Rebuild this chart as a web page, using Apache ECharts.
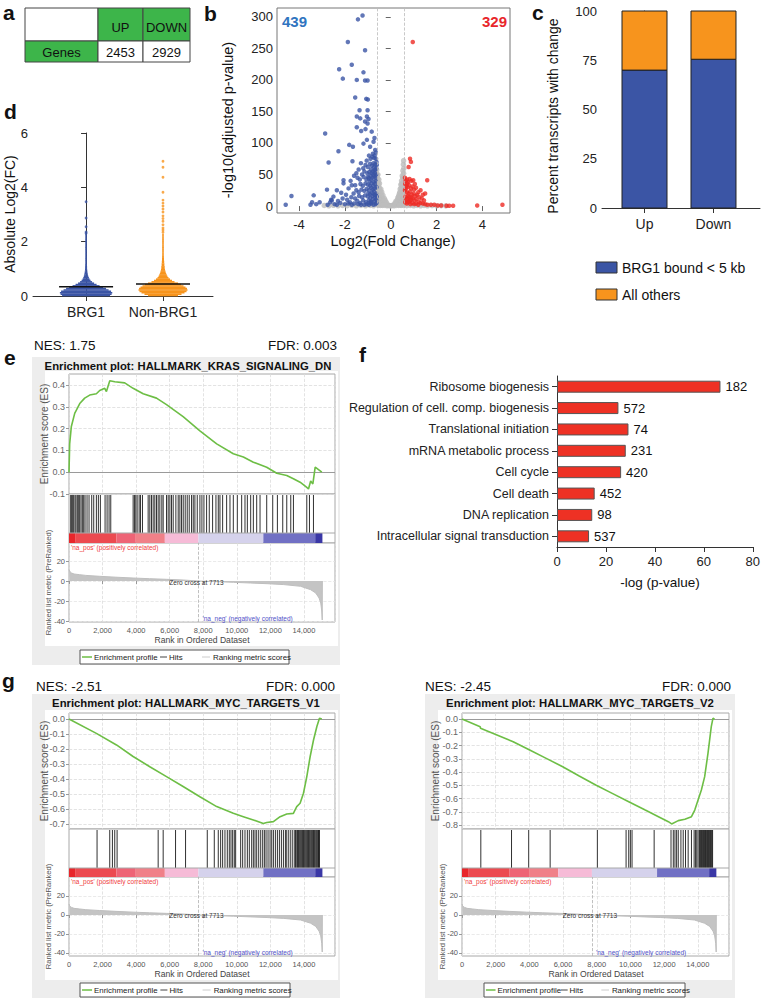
<!DOCTYPE html>
<html><head><meta charset="utf-8">
<script src="https://cdn.jsdelivr.net/npm/echarts@6/dist/echarts.min.js"></script>
<style>html,body{margin:0;padding:0;background:#fff}#c{width:763px;height:998px}</style>
</head><body><div id="c"></div>
<script>
const FF = '"Liberation Sans", Arial, Helvetica, sans-serif';

// ---------- a: table ----------
const tableHeader = ['UP', 'DOWN'];
const tableRowLabel = 'Genes';
const tableValues = [2453, 2929];

// ---------- b: volcano ----------
const volcanoGray = [
[-0.61,57],[-0.63,52],[-0.59,49],[-0.62,46],[-0.57,44],[-0.6,40],[-0.55,38],[-0.62,35],[-0.53,33],[-0.58,30],[-0.5,29],[-0.6,26],[-0.47,25],[-0.54,22],[-0.44,21],[-0.6,19],[-0.5,17],[-0.4,16],[-0.56,14],[-0.46,12],[-0.36,12],[-0.6,10],[-0.52,8],[-0.42,8],[-0.32,8],[-0.27,6],[-0.58,5],[-0.48,4],[-0.38,4],[-0.22,4],[-0.3,3],[-0.17,2],[-0.12,1.5],[-0.07,1],[-0.02,0.5],[-0.55,1],[-0.45,1],[-0.35,1],[-0.25,1],[-0.15,0.5],
[-0.56,50],[-0.52,42],[-0.49,36],[-0.57,24],[-0.43,27],[-0.39,22],[-0.34,17],[-0.28,12],[-0.24,9],[-0.19,6],[-0.52,3],[-0.43,2],[-0.33,2],
[0.56,72],[0.55,66],[0.57,60],[0.53,56],[0.56,52],[0.5,48],[0.55,44],[0.47,40],[0.53,37],[0.44,34],[0.5,31],[0.57,28],[0.41,27],[0.47,24],[0.54,22],[0.38,20],[0.44,18],[0.52,16],[0.34,15],[0.41,13],[0.49,11],[0.57,10],[0.3,10],[0.37,9],[0.45,7],[0.54,6],[0.26,6],[0.33,5],[0.41,4],[0.5,3],[0.21,4],[0.28,3],[0.16,2],[0.11,1.5],[0.06,1],[0.02,0.5],[0.55,1],[0.45,1],[0.35,1],[0.25,1],[0.15,0.5],
[0.52,45],[0.48,35],[0.45,29],[0.4,22],[0.36,17],[0.31,13],[0.23,8],[0.19,5],[0.47,2],[0.38,2],
[-2.9,1],[-2.7,0.5],[-2.5,1.2],[-2.3,0.5],[-2.1,1],[-1.9,0.6],[-1.7,1.2],[-1.5,0.5],[-1.3,1],[-1.1,0.5],[-0.9,1],[-0.75,0.5],[0.7,0.6],[0.85,1],[1.0,0.5],[1.15,1],[1.3,0.5],[1.45,1],[1.6,0.4],[1.8,0.8],[2.0,0.4],[2.2,0.7],[2.4,0.3]
];
const volcanoBlue = [
[-1.23,302],[-1.43,296],[-1.87,260],[-1.12,247],[-1.70,224],[-2.25,217],[-1.19,212],[-2.09,202],[-1.48,200],[-1.12,199],[-1.01,199],[-1.55,172],[-1.07,170],[-1.00,169],[-1.36,152],[-1.01,152],[-1.48,142],[-1.33,139],[-1.04,142],[-0.97,138],[-1.12,134],[-1.01,131],[-1.48,125],[-2.86,115],[-1.29,119],[-1.10,122],[-0.83,118],[-0.71,108],[-1.81,97],[-1.65,94],[-2.28,87],[-1.19,99],[-1.04,105],[-0.90,94],[-1.67,71],[-2.71,69],[-0.75,102],[-0.68,89],[-0.78,83],
[-0.65,85],[-0.7,80],[-0.72,76],[-0.8,78],[-0.88,75],[-0.95,80],[-1.05,72],[-0.62,70],[-0.68,66],[-0.75,68],[-0.82,64],[-0.9,67],[-1.0,62],[-1.1,65],[-1.2,60],[-1.3,68],[-0.63,60],[-0.7,57],[-0.78,55],[-0.86,58],[-0.94,54],[-1.02,52],[-1.15,55],[-1.25,50],[-1.4,58],[-1.5,52],[-0.64,50],[-0.72,47],[-0.8,45],[-0.88,48],[-0.96,44],[-1.06,42],[-1.18,46],[-1.35,42],[-1.45,45],[-1.6,48],[-1.75,40],[-2.06,41],[-2.06,36],[-0.66,40],[-0.74,38],[-0.84,36],[-0.92,39],[-1.0,34],[-1.1,36],[-1.22,32],[-1.32,35],[-1.55,33],[-1.7,33],[-1.84,28],[-2.35,25],[-2.16,21],[-2.78,26],[-3.36,17],[-4.33,16],[-4.58,2],
[-0.62,30],[-0.7,28],[-0.78,26],[-0.86,29],[-0.95,25],[-1.05,27],[-1.15,24],[-1.28,26],[-1.4,22],[-1.5,25],[-1.62,20],[-1.95,18],[-2.5,15],[-0.64,20],[-0.72,18],[-0.8,16],[-0.9,19],[-1.0,15],[-1.12,17],[-1.25,14],[-1.38,16],[-1.55,12],[-1.72,14],[-1.9,10],[-2.1,12],[-2.3,8],[-2.6,10],[-0.63,10],[-0.7,8],[-0.78,11],[-0.87,7],[-0.96,9],[-1.08,6],[-1.2,9],[-1.33,5],[-1.46,8],[-1.6,4],[-1.78,6],[-2.0,3],[-2.2,5],[-2.45,3],[-2.64,6],[-2.57,9],[-2.75,2],[-3.43,6],[-3.25,3],[-3.1,6],[-3.5,2],[-0.66,3],[-0.75,2],[-0.85,4],[-0.95,2],[-1.05,3],[-1.15,2],[-1.3,2],[-1.42,3],[-1.7,2],[-1.85,4],[-2.35,2],
[-0.61,65],[-0.64,75],[-0.67,58],[-0.69,52],[-0.73,62],[-0.76,50],[-0.66,45],[-0.69,35],[-0.76,32],[-0.83,52],[-0.85,42],[-0.91,32],[-0.99,46],[-0.61,15],[-0.67,13],[-0.74,23],[-0.82,21],[-0.89,13],[-0.98,20],[-0.62,5],[-0.68,17],[-0.83,6],[-0.92,5]
];
const volcanoRed = [
[0.96,260],[0.84,75],[0.88,70],[0.78,62],[1.59,41],[0.62,45],[0.65,40],[0.7,42],[0.75,38],[0.82,43],[0.9,40],[0.98,41],[1.05,35],[0.63,35],[0.68,32],[0.74,30],[0.8,33],[0.88,28],[0.95,31],[1.02,26],[1.1,29],[1.2,22],[1.3,25],[1.4,18],[1.5,20],[0.62,25],[0.7,22],[0.77,20],[0.85,23],[0.92,18],[1.0,20],[1.08,16],[1.15,18],[1.25,14],[1.35,12],[1.45,9],[0.64,15],[0.72,12],[0.8,14],[0.88,10],[0.96,12],[1.04,9],[1.12,11],[1.22,7],[1.3,5],[1.4,4],[0.63,6],[0.7,4],[0.78,7],[0.86,3],[0.94,5],[1.02,3],[1.1,4],[1.2,2],[1.5,3],[1.6,2],[1.75,2],[1.9,2],[2.05,1],[2.2,1],[2.43,0.5],[2.55,0.5],[2.72,0.5],[3.77,1],[4.87,2],
[0.66,28],[0.72,36],[0.76,16],[0.83,8],[0.91,14],[0.66,10],[0.74,6]
];
const volcanoCounts = [439, 329];
const volcanoThreshold = 0.585;
const volcanoXTicks = [-4, -2, 0, 2, 4];
const volcanoYTicks = [0, 50, 100, 150, 200, 250, 300];

// ---------- c: stacked bars ----------
const cCategories = ['Up', 'Down'];
const cBound = [70, 75.5];
const cOthers = [30, 24.5];
const cNames = ['BRG1 bound < 5 kb', 'All others'];

// ---------- d: distributions ----------
const dCategories = ['BRG1', 'Non-BRG1'];
const dBinEdges = [0,0.05,0.1,0.15,0.2,0.25,0.3,0.35,0.4,0.45,0.5,0.55,0.6,0.65,0.7,0.75,0.8,0.85,0.9,0.95,1.0,1.1,1.2,1.3,1.4,1.5,1.6,1.7,1.8,1.9,2.0,2.1,2.2,2.3];
const dDensityBRG1 = [240,255,262,250,225,200,170,135,105,80,60,45,35,28,23,19,16,14,12,11,10,9,8,8,7,7,6,6,5,5,5,4,3];
const dDensityNon  = [150,185,215,235,245,240,225,205,180,150,115,90,70,55,45,38,32,27,23,20,17,14,12,10,9,8,7,7,6,6,5,5,4];
const dSparseBRG1 = [3.47, 2.87, 2.55, 2.36, 2.31];
const dSparseNon = [4.96, 4.74, 4.37, 3.82, 3.53, 3.42, 3.31, 3.2, 3.09, 2.95, 2.85, 2.75, 2.62, 2.5, 2.43, 2.35];
const dMeans = [0.34, 0.44];

// ---------- f: GO terms ----------
const fTerms = ['Ribosome biogenesis','Regulation of cell. comp. biogenesis','Translational initiation','mRNA metabolic process','Cell cycle','Cell death','DNA replication','Intracellular signal transduction'];
const fValues = [66.8, 25.1, 29.2, 28.1, 26.2, 15.4, 14.4, 13.1];
const fGenes = [182, 572, 74, 231, 420, 452, 98, 537];

// ---------- GSEA shared ----------
const rankMax = 15850;
const rankYTicks = [-40, -20, 0, 20];
const zeroCross = 7713;
const rankedMetric = [[0,11.5],[30,10],[80,9],[150,8],[300,7],[640,6.3],[1000,5.6],[1830,4.7],[2800,3.8],[3820,3],[4800,2.3],[5810,1.7],[6800,1.0],[7713,0],[8800,-0.7],[9800,-1.3],[10800,-2],[11800,-2.7],[12800,-3.6],[13800,-5.3],[14400,-8.7],[14700,-12],[14900,-17],[15000,-22],[15060,-30],[15090,-39],[15095,0]];
const colorBarBreaks = [0, 400, 2830, 3980, 5710, 7713, 11580, 14670, 15100];

// e
const eTitle = 'Enrichment plot: HALLMARK_KRAS_SIGNALING_DN';
const eNES = 'NES: 1.75', eFDR = 'FDR: 0.003';
const eESTicks = [-0.1, 0, 0.1, 0.2, 0.3, 0.4];
const eES = [[0,0],[40,0.13],[140,0.21],[340,0.27],[640,0.315],[935,0.34],[1234,0.354],[1630,0.36],[1830,0.375],[2130,0.385],[2230,0.37],[2430,0.42],[2730,0.415],[3320,0.41],[3820,0.385],[4420,0.36],[5215,0.34],[5810,0.31],[6800,0.255],[7800,0.19],[8800,0.13],[9790,0.085],[10390,0.07],[10985,0.046],[11780,0.023],[12380,-0.005],[12975,-0.015],[13370,-0.03],[13770,-0.046],[14170,-0.07],[14270,-0.077],[14400,-0.04],[14530,-0.054],[14670,0.023],[15065,0]];
const eHits = [100,159,219,279,358,418,498,577,637,716,796,876,955,1075,1194,1353,1473,1632,1751,1870,2149,2269,2388,2488,3821,3900,3980,4060,4179,4259,4378,4716,4816,4915,5015,5114,5214,5313,5413,5532,5612,5811,5910,6010,6109,6209,6368,6507,6607,6706,6806,6925,7045,7164,7303,7403,7502,7642,7801,7920,8040,8199,8358,8557,8756,8895,8995,9154,9393,9592,9791,10030,10288,10487,10627,10826,10985,11184,11383,11781,12139,12418,12736,12975,13214,13373,14169,14328,14567];

// g left
const g1Title = 'Enrichment plot: HALLMARK_MYC_TARGETS_V1';
const g1NES = 'NES: -2.51', g1FDR = 'FDR: 0.000';
const g1ESTicks = [-0.7,-0.6,-0.5,-0.4,-0.3,-0.2,-0.1,0];
const g1ES = [[0,0],[1630,-0.096],[2830,-0.173],[3820,-0.25],[4815,-0.318],[5810,-0.384],[6800,-0.45],[7800,-0.518],[8800,-0.584],[9790,-0.629],[10390,-0.651],[10985,-0.673],[11580,-0.696],[11780,-0.69],[12180,-0.684],[12580,-0.651],[12975,-0.633],[13370,-0.629],[13570,-0.584],[13770,-0.562],[13970,-0.495],[14170,-0.384],[14370,-0.25],[14570,-0.14],[14770,-0.05],[14925,0.005],[15065,0]];
const g1Hits = [1672,2428,2587,2726,2866,5313,5612,6348,6945,8239,8657,8895,9035,9154,9293,9433,9552,9652,9751,9850,9930,10229,10348,10487,10627,10746,10885,10985,11084,11184,11303,11423,11542,11642,11741,11860,11980,12079,12179,12298,12418,12537,12656,12776,12895,12975,13094,13214,13333,13452,13500,13572,13620,13671,13720,13771,13820,13870,13920,13970,14020,14069,14120,14169,14220,14268,14320,14368,14420,14467,14520,14567,14620,14666,14720,14766,14820,14865,14890,14925];

// g right
const g2Title = 'Enrichment plot: HALLMARK_MYC_TARGETS_V2';
const g2NES = 'NES: -2.45', g2FDR = 'FDR: 0.000';
const g2ESTicks = [-0.8,-0.7,-0.6,-0.5,-0.4,-0.3,-0.2,-0.1,0];
const g2ES = [[0,0],[1078,-0.058],[1100,-0.07],[3038,-0.171],[4018,-0.234],[5000,-0.297],[5978,-0.36],[6958,-0.43],[7938,-0.498],[8918,-0.561],[9898,-0.624],[10878,-0.687],[11662,-0.737],[12250,-0.775],[12446,-0.792],[12838,-0.767],[13230,-0.757],[13622,-0.737],[13818,-0.687],[14014,-0.611],[14210,-0.536],[14406,-0.435],[14602,-0.259],[14798,-0.058],[14896,0.005],[14994,0]];
const g2Hits = [1117,2940,3959,5233,8036,9741,9898,9996,10094,11407,12407,12544,12642,12740,12838,12995,13132,13269,13426,13622,13779,13857,13936,14014,14092,14130,14171,14210,14249,14290,14328,14370,14406,14450,14484,14530,14563,14600,14641,14680,14720,14760,14798,14840,14876];

// ---------- styles ----------
const colorBarColors = ['#E8262B','#EC4A50','#EE6476','#F08088','#F6BBD7','#D5D2EC','#7170C4','#3A37A6'];
const BLUE = '#3B55A5', ORANGE = '#F7941D', RED = '#EE2B24', GREEN = '#3DB54A';

// ---------- builders ----------
const grids = [], xAxes = [], yAxes = [], series = [], G = [];
function addGrid(rect, xa, ya) {
  const gi = grids.length;
  grids.push(rect);
  xAxes.push(Object.assign({gridIndex: gi}, xa));
  yAxes.push(Object.assign({gridIndex: gi}, ya));
  return gi;
}
function T(x, y, text, o) {
  o = o || {};
  G.push({type: 'text', x: x, y: y, rotation: o.rot || 0, z: o.z || 50, silent: true,
    style: {text: String(text), fill: o.color || '#111', fontSize: o.size || 14, fontFamily: FF,
      fontWeight: o.weight || 'normal', align: o.align || 'left', verticalAlign: 'middle'}});
}
function R(x, y, w, h, fill, stroke, z) {
  G.push({type: 'rect', z: z == null ? 1 : z, silent: true, shape: {x: x, y: y, width: w, height: h},
    style: {fill: fill || 'none', stroke: stroke || null, lineWidth: stroke ? 1 : 0}});
}
function Ln(x1, y1, x2, y2, stroke, w, z) {
  G.push({type: 'line', z: z == null ? 40 : z, silent: true, shape: {x1: x1, y1: y1, x2: x2, y2: y2},
    style: {stroke: stroke, lineWidth: w || 1}});
}
const axTxt = {color: '#222', fontFamily: FF};

// ---------- panel letters ----------
T(3, 12, 'a', {size: 21, weight: 'bold'});
T(204, 13, 'b', {size: 21, weight: 'bold'});
T(532, 12, 'c', {size: 21, weight: 'bold'});
T(4, 111, 'd', {size: 21, weight: 'bold'});
T(4, 357, 'e', {size: 21, weight: 'bold'});
T(359, 354, 'f', {size: 21, weight: 'bold'});
T(2, 680, 'g', {size: 21, weight: 'bold'});

// ---------- a: table ----------
R(25, 8, 73, 33, '#FFFFFF', '#444', 5);
R(98, 8, 45, 33, GREEN, '#444', 5);
R(143, 8, 47, 33, GREEN, '#444', 5);
R(25, 41, 73, 21, GREEN, '#444', 5);
R(98, 41, 45, 21, '#FFFFFF', '#444', 5);
R(143, 41, 47, 21, '#FFFFFF', '#444', 5);
T(120.5, 27, tableHeader[0], {size: 13, align: 'center'});
T(166.5, 27, tableHeader[1], {size: 13, align: 'center'});
T(61.5, 52, tableRowLabel, {size: 13, align: 'center'});
T(120.5, 52, tableValues[0], {size: 13, align: 'center'});
T(166.5, 52, tableValues[1], {size: 13, align: 'center'});

// ---------- b: volcano ----------
const gb = addGrid({left: 277, top: 8, width: 233, height: 205, show: true, borderColor: '#777', borderWidth: 1},
  {type: 'value', min: -4.96, max: 5.2, axisLine: {show: false},
   axisTick: {show: true, customValues: volcanoXTicks, length: 5, lineStyle: {color: '#666'}},
   axisLabel: Object.assign({customValues: volcanoXTicks, fontSize: 13, margin: 5}, axTxt), splitLine: {show: false}},
  {type: 'value', min: -11, max: 314, axisLine: {show: false},
   axisTick: {show: true, customValues: volcanoYTicks, length: 5, lineStyle: {color: '#666'}},
   axisLabel: Object.assign({customValues: volcanoYTicks, fontSize: 13, margin: 4}, axTxt), splitLine: {show: false}});
series.push({type: 'scatter', xAxisIndex: gb, yAxisIndex: gb, data: volcanoGray, symbolSize: 5.5, itemStyle: {color: '#BDBDBD'}, z: 2,
  markLine: {silent: true, symbol: 'none', label: {show: false}, lineStyle: {type: 'dashed', color: '#BBBBBB', width: 0.8},
    data: [{xAxis: -volcanoThreshold}, {xAxis: volcanoThreshold}]}});
series.push({type: 'scatter', xAxisIndex: gb, yAxisIndex: gb, data: volcanoBlue, symbolSize: 4.5, itemStyle: {color: BLUE}, z: 3});
series.push({type: 'scatter', xAxisIndex: gb, yAxisIndex: gb, data: volcanoRed, symbolSize: 4.5, itemStyle: {color: RED}, z: 3});
T(282, 21, volcanoCounts[0], {size: 15, weight: 'bold', color: '#2F74C0'});
T(507, 21, volcanoCounts[1], {size: 15, weight: 'bold', color: '#E8262B', align: 'right'});
T(393, 241, 'Log2(Fold Change)', {size: 14.5, align: 'center'});
T(228, 120, '-log10(adjusted p-value)', {size: 14.5, align: 'center', rot: Math.PI / 2});

// ---------- c: stacked bars ----------
const gc = addGrid({left: 602, top: 11, width: 158, height: 197},
  {type: 'value', min: -0.616, max: 1.674, axisLine: {show: true, lineStyle: {color: '#333'}},
   axisTick: {show: true, customValues: [0, 1], length: 5, lineStyle: {color: '#333'}},
   axisLabel: Object.assign({customValues: [0, 1], fontSize: 14, margin: 9, formatter: v => cCategories[Math.round(v)]}, axTxt), splitLine: {show: false}},
  {type: 'value', min: 0, max: 100, interval: 25, axisLine: {show: true, lineStyle: {color: '#333'}},
   axisTick: {show: true, length: 5, lineStyle: {color: '#333'}},
   axisLabel: Object.assign({fontSize: 13, margin: 5}, axTxt), splitLine: {show: false}});
series.push({type: 'custom', xAxisIndex: gc, yAxisIndex: gc, z: 3,
  data: cCategories.map((c, i) => [i, cBound[i], cOthers[i]]), encode: {x: 0, y: [1, 2]},
  renderItem: (params, api) => {
    const i = api.value(0), b = api.value(1), o = api.value(2);
    const p0 = api.coord([i, 0]), p1 = api.coord([i, b]), p2 = api.coord([i, b + o]);
    const w = 45;
    return {type: 'group', children: [
      {type: 'rect', shape: {x: p0[0] - w / 2, y: p1[1], width: w, height: p0[1] - p1[1]}, style: {fill: BLUE, stroke: '#222', lineWidth: 1}},
      {type: 'rect', shape: {x: p0[0] - w / 2, y: p2[1], width: w, height: p1[1] - p2[1]}, style: {fill: ORANGE, stroke: '#222', lineWidth: 1}}
    ]};
  }});
T(553, 116, 'Percent transcripts with change', {size: 14, align: 'center', rot: Math.PI / 2});
R(596, 262, 21, 11, BLUE, '#333', 5);
T(622, 268, cNames[0], {size: 14});
R(596, 289, 21, 11, ORANGE, '#333', 5);
T(622, 295, cNames[1], {size: 14});

// ---------- d: distributions ----------
const gd = addGrid({left: 33, top: 133, width: 180, height: 163},
  {type: 'value', min: -0.69, max: 1.65, axisLine: {show: true, lineStyle: {color: '#333'}},
   axisTick: {show: true, customValues: [0, 1], length: 5, lineStyle: {color: '#333'}},
   axisLabel: Object.assign({customValues: [0, 1], fontSize: 14, margin: 9, formatter: v => dCategories[Math.round(v)]}, axTxt), splitLine: {show: false}},
  {type: 'value', min: 0, max: 6, interval: 2, axisLine: {show: true, lineStyle: {color: '#333'}},
   axisTick: {show: true, length: 5, lineStyle: {color: '#333'}},
   axisLabel: Object.assign({fontSize: 13, margin: 5}, axTxt), splitLine: {show: false}});
const dColors = [BLUE, ORANGE];
const dData = [];
[dDensityBRG1, dDensityNon].forEach((arr, c) => arr.forEach((dens, i) => dData.push([c, dBinEdges[i], dBinEdges[i + 1], dens])));
series.push({type: 'custom', xAxisIndex: gd, yAxisIndex: gd, data: dData, encode: {x: 0, y: [1, 2]}, z: 3,
  renderItem: (params, api) => {
    const c = api.value(0), p0 = api.coord([c, api.value(1)]), p1 = api.coord([c, api.value(2)]);
    const hw = Math.max(api.value(3) * 0.1, 0.8);
    return {type: 'rect', shape: {x: p0[0] - hw, y: p1[1], width: 2 * hw, height: p0[1] - p1[1] + 0.3}, style: {fill: dColors[c]}};
  }});
series.push({type: 'scatter', xAxisIndex: gd, yAxisIndex: gd, data: dSparseBRG1.map(v => [0, v]), symbolSize: 2.8, itemStyle: {color: BLUE}, z: 3});
series.push({type: 'scatter', xAxisIndex: gd, yAxisIndex: gd, data: dSparseNon.map(v => [1, v]), symbolSize: 2.8, itemStyle: {color: ORANGE}, z: 3});
series.push({type: 'custom', xAxisIndex: gd, yAxisIndex: gd, data: dMeans.map((m, i) => [i, m]), z: 4,
  renderItem: (params, api) => {
    const p = api.coord([api.value(0), api.value(1)]);
    return {type: 'line', shape: {x1: p[0] - 27, y1: p[1], x2: p[0] + 27, y2: p[1]}, style: {stroke: '#111', lineWidth: 1.6}};
  }});
T(10, 214, 'Absolute Log2(FC)', {size: 14, align: 'center', rot: Math.PI / 2});

// ---------- f: GO bars ----------
const gf = addGrid({left: 557, top: 376, width: 205, height: 171},
  {type: 'value', min: 0, max: 80, interval: 20, axisLine: {show: true, lineStyle: {color: '#333'}},
   axisTick: {show: true, length: 5, lineStyle: {color: '#333'}},
   axisLabel: Object.assign({fontSize: 13, margin: 8}, axTxt), splitLine: {show: false}},
  {type: 'category', data: fTerms, inverse: true, axisLine: {show: true, lineStyle: {color: '#333'}},
   axisTick: {show: true, alignWithLabel: true, length: 5, lineStyle: {color: '#333'}},
   axisLabel: Object.assign({fontSize: 12.5, margin: 8}, axTxt)});
series.push({type: 'bar', xAxisIndex: gf, yAxisIndex: gf, data: fValues, barWidth: 12,
  itemStyle: {color: '#EE3124', borderColor: '#555', borderWidth: 1},
  label: {show: true, position: 'right', distance: 5, fontSize: 13, color: '#111', fontFamily: FF, formatter: p => fGenes[p.dataIndex]}});
T(660, 582, '-log (p-value)', {size: 13.5, align: 'center'});

// ---------- GSEA blocks ----------
function addGsea(o) {
  const L = o.left, W = o.width;
  const hitsTop = o.esTop + o.esH, rankTop = hitsTop + o.hitsH;
  R(o.box[0], o.box[1], o.box[2], o.box[3], '#EDEDED', null, -20);
  R(o.panel[0], o.panel[1], o.panel[2], o.panel[3], '#FFFFFF', null, -19);
  const gridBase = {show: true, borderColor: '#A8A8A8', borderWidth: 1, backgroundColor: '#FFFFFF'};
  const dashV = {show: true, lineStyle: {color: '#DCDCDC', type: 'dashed', width: 0.8}};
  const xBase = {type: 'value', min: 0, max: rankMax, interval: 2000, splitLine: dashV,
    axisLine: {show: false}, axisTick: {show: false}, axisLabel: {show: false}};
  const lblGray = {color: '#666', fontFamily: FF};
  // ES
  const g1 = addGrid(Object.assign({left: L, top: o.esTop, width: W, height: o.esH}, gridBase), xBase,
    {type: 'value', min: o.esMin, max: o.esMax, axisLine: {show: false},
     axisTick: {show: true, customValues: o.esTicks, length: 3, lineStyle: {color: '#999'}},
     axisLabel: Object.assign({customValues: o.esTicks, fontSize: 9, margin: 4, formatter: v => v.toFixed(1)}, lblGray),
     splitLine: {show: true, lineStyle: {color: '#DCDCDC', type: 'dashed', width: 0.8}}});
  series.push({type: 'line', xAxisIndex: g1, yAxisIndex: g1, data: o.es, symbol: 'none', clip: false, z: 5,
    lineStyle: {color: '#6DBE45', width: 1.6},
    markLine: {silent: true, symbol: 'none', label: {show: false}, lineStyle: {color: '#9A9A9A', type: 'solid', width: 1}, data: [{yAxis: 0}]}});
  // hits + color bar
  const BAR = o.barH;
  const g2 = addGrid(Object.assign({left: L, top: hitsTop, width: W, height: o.hitsH}, gridBase),
    Object.assign({}, xBase, {splitLine: {show: false}}),
    {type: 'value', min: 0, max: 1, show: false});
  series.push({type: 'custom', xAxisIndex: g2, yAxisIndex: g2, data: o.hits.map(r => [r, 0]), z: 4,
    renderItem: (params, api) => {
      const x = api.coord([api.value(0), 0])[0], cs = params.coordSys;
      return {type: 'line', shape: {x1: x, y1: cs.y + 1, x2: x, y2: cs.y + cs.height - BAR}, style: {stroke: '#1A1A1A', lineWidth: 0.9}};
    }});
  const segs = [];
  for (let i = 0; i < colorBarBreaks.length - 1; i++) segs.push([colorBarBreaks[i], colorBarBreaks[i + 1], i]);
  series.push({type: 'custom', xAxisIndex: g2, yAxisIndex: g2, data: segs, encode: {x: [0, 1]}, z: 4,
    renderItem: (params, api) => {
      const a = api.coord([api.value(0), 0])[0], b = api.coord([api.value(1), 0])[0], cs = params.coordSys;
      return {type: 'rect', shape: {x: a, y: cs.y + cs.height - BAR, width: b - a, height: BAR}, style: {fill: colorBarColors[api.value(2)]}};
    }});
  series.push({type: 'custom', xAxisIndex: g2, yAxisIndex: g2, data: [[0, 0]], z: 5,
    renderItem: (params, api) => {
      const cs = params.coordSys, y = cs.y + cs.height - BAR;
      return {type: 'line', shape: {x1: cs.x, y1: y, x2: cs.x + cs.width, y2: y}, style: {stroke: '#A8A8A8', lineWidth: 1}};
    }});
  // ranked list
  const g3 = addGrid(Object.assign({left: L, top: rankTop, width: W, height: o.rankH}, gridBase),
    Object.assign({}, xBase, {axisTick: {show: true, length: 3, lineStyle: {color: '#999'}},
      axisLabel: Object.assign({show: true, fontSize: 7.5, margin: 4, showMaxLabel: false, formatter: v => v.toLocaleString('en-US')}, {color: '#555', fontFamily: FF})}),
    {type: 'value', min: o.rankMin, max: o.rankMax, axisLine: {show: false},
     axisTick: {show: true, customValues: rankYTicks, length: 3, lineStyle: {color: '#999'}},
     axisLabel: Object.assign({customValues: rankYTicks, fontSize: 7.5, margin: 4}, {color: '#555', fontFamily: FF}),
     splitLine: {show: true, lineStyle: {color: '#E4E4E4', type: 'dashed', width: 0.8}}});
  series.push({type: 'line', xAxisIndex: g3, yAxisIndex: g3, data: rankedMetric, symbol: 'none', z: 3,
    lineStyle: {color: '#BEBEBE', width: 1}, areaStyle: {color: '#C4C4C4', opacity: 1},
    markLine: {silent: true, symbol: 'none', label: {show: false}, lineStyle: {type: 'dashed', color: '#B0B0B0', width: 0.8}, data: [{xAxis: zeroCross}]}});
  series.push({type: 'custom', xAxisIndex: g3, yAxisIndex: g3, data: [[zeroCross, 0]], z: 6,
    renderItem: (params, api) => {
      const p = api.coord([api.value(0), api.value(1)]);
      return {type: 'text', x: p[0] - 2, y: p[1] + 1, style: {text: 'Zero cross at ' + zeroCross, fill: '#333', fontSize: 6.5, fontFamily: FF, align: 'center', verticalAlign: 'middle'}};
    }});
  series.push({type: 'custom', xAxisIndex: g3, yAxisIndex: g3, data: [[zeroCross, o.rankMin]], z: 6,
    renderItem: (params, api) => {
      const p = api.coord([api.value(0), api.value(1)]);
      return {type: 'text', x: p[0] + 4, y: p[1] - 4, style: {text: "'na_neg' (negatively correlated)", fill: '#5050C8', fontSize: 6.5, fontFamily: FF, align: 'left', verticalAlign: 'middle'}};
    }});
  T(L + 2, rankTop + 4, "'na_pos' (positively correlated)", {size: 6.5, color: '#F04040'});
  // texts
  T(o.nesX, o.textY, o.nes, {size: 13.5});
  T(o.fdrX, o.textY, o.fdr, {size: 13.5, align: 'right'});
  T(o.titleX, o.titleY, o.title, {size: 11.3, weight: 'bold', align: 'center'});
  T(o.esNameX, o.esTop + o.esH / 2, 'Enrichment score (ES)', {size: 10, color: '#555', align: 'center', rot: Math.PI / 2});
  T(o.rankNameX, rankTop + o.rankH / 2, 'Ranked list metric (PreRanked)', {size: 7.6, color: '#555', align: 'center', rot: Math.PI / 2});
  T(o.xNameX, rankTop + o.rankH + 18, 'Rank in Ordered Dataset', {size: 8.6, color: '#444', align: 'center'});
  // legend
  const lx = o.legend[0], ly = o.legend[1], lw = o.legend[2], k = lw / 209;
  R(lx, ly, lw, 14, '#FFFFFF', '#555', 30);
  Ln(lx + 2 * k, ly + 7, lx + 12 * k, ly + 7, '#6DBE45', 1.5, 40);
  T(lx + 14 * k, ly + 7, 'Enrichment profile', {size: 7.9, color: '#222'});
  Ln(lx + 80 * k, ly + 7, lx + 87 * k, ly + 7, '#444', 1, 40);
  T(lx + 89 * k, ly + 7, 'Hits', {size: 7.9, color: '#222'});
  Ln(lx + 122 * k, ly + 7, lx + 130 * k, ly + 7, '#CCCCCC', 1, 40);
  T(lx + 133 * k, ly + 7, 'Ranking metric scores', {size: 7.9, color: '#222'});
}

addGsea({left: 69, width: 266, esTop: 374, esH: 120, esMin: -0.1, esMax: 0.4507, esTicks: eESTicks,
  hitsH: 49, barH: 10, rankH: 79, rankMin: -41, rankMax: 38, es: eES, hits: eHits,
  box: [32, 357, 308, 308], panel: [45, 371, 293, 275], nes: eNES, fdr: eFDR, title: eTitle,
  nesX: 34, fdrX: 337, textY: 345, titleX: 188, titleY: 366, esNameX: 44, rankNameX: 48, xNameX: 202,
  legend: [80, 650, 209]});
addGsea({left: 69, width: 266, esTop: 713, esH: 116, esMin: -0.7333, esMax: 0.04, esTicks: g1ESTicks,
  hitsH: 48, barH: 9, rankH: 79, rankMin: -43.2, rankMax: 40, es: g1ES, hits: g1Hits,
  box: [32, 694, 308, 304], panel: [45, 710, 293, 270], nes: g1NES, fdr: g1FDR, title: g1Title,
  nesX: 36, fdrX: 335, textY: 686, titleX: 186, titleY: 703, esNameX: 44, rankNameX: 48, xNameX: 202,
  legend: [80, 983, 210]});
addGsea({left: 462, width: 267, esTop: 713, esH: 116, esMin: -0.83, esMax: 0.0453, esTicks: g2ESTicks,
  hitsH: 48, barH: 9, rankH: 79, rankMin: -43.2, rankMax: 40, es: g2ES, hits: g2Hits,
  box: [425, 694, 310, 304], panel: [438, 710, 294, 270], nes: g2NES, fdr: g2FDR, title: g2Title,
  nesX: 425, fdrX: 731, textY: 686, titleX: 580, titleY: 703, esNameX: 435, rankNameX: 442, xNameX: 596,
  legend: [484, 983, 201]});

const chart = echarts.init(document.getElementById('c'), null, {renderer: 'svg', width: 763, height: 998});
chart.setOption({
  animation: false,
  backgroundColor: '#FFFFFF',
  textStyle: {fontFamily: FF},
  grid: grids, xAxis: xAxes, yAxis: yAxes, series: series,
  graphic: {elements: G}
});
</script></body></html>
